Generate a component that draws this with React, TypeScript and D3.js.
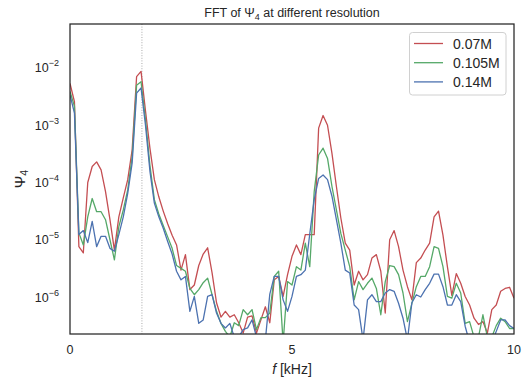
import React from 'react';
import * as d3 from 'd3';

// FFT frequency bins (kHz), spacing of the transform
const freqStepKHz = 0.1;

const seriesNames = ['0.07M', '0.105M', '0.14M'];
const seriesColors = ['#C44E52', '#55A868', '#4C72B0'];

// log10 |Psi4|, one value per frequency bin
const log10Psi4_007M = [
  -2.27, -2.59, -5.12, -5.23, -4.0, -3.72, -3.64, -3.78, -4.16, -4.65,
  -5.18, -4.6, -4.27, -3.95, -3.43, -2.15, -2.06, -2.75, -3.4, -3.95,
  -4.25, -4.5, -4.72, -4.92, -5.09, -5.53, -5.26, -5.87, -5.79, -5.45,
  -5.25, -5.14, -5.58, -6.1, -6.35, -6.25, -6.35, -6.31, -6.45, -6.63,
  -6.35, -6.33, -6.63, -6.4, -6.17, -6.45, -5.7, -5.64, -5.99, -5.61,
  -5.29, -5.09, -5.26, -4.91, -4.91, -4.91, -3.05, -2.83, -3.0, -3.49,
  -4.07, -4.62, -5.06, -5.18, -5.79, -5.55, -5.7, -5.61, -5.32, -5.26,
  -5.55, -6.28, -5.0, -4.84, -5.12, -5.53, -5.82, -6.05, -5.4, -5.32,
  -5.18, -5.06, -4.6, -4.5, -4.92, -5.47, -5.97, -5.59, -5.76, -5.99,
  -6.14, -6.37, -6.48, -6.43, -6.63, -6.22, -6.14, -5.9, -5.85, -5.83,
  -6.02,
];

const log10Psi4_0105M = [
  -2.41, -2.67, -4.88, -5.09, -4.6, -4.28, -4.51, -4.51, -4.65, -5.0,
  -5.35, -4.77, -4.48, -4.13, -3.55, -2.3, -2.24, -2.9, -3.7, -4.3,
  -4.55, -4.75, -4.95, -5.15, -5.45, -5.5, -5.55, -5.85, -5.96, -5.87,
  -5.75, -5.67, -5.96, -6.25, -6.46, -6.6, -6.7, -6.45, -6.5, -6.22,
  -6.31, -6.22, -6.57, -6.36, -6.36, -6.28, -5.64, -5.55, -6.8, -5.73,
  -5.79, -5.47, -5.53, -5.06, -5.47, -4.16, -3.52, -3.4, -3.58, -4.07,
  -4.48, -4.89, -5.18, -5.47, -6.05, -5.73, -5.87, -5.76, -5.67, -5.85,
  -6.31, -5.73, -5.45, -5.47, -5.61, -5.93, -6.43, -6.11, -5.82, -5.64,
  -5.64, -5.47, -5.12, -5.15, -5.47, -5.99, -6.02, -5.76, -5.93, -6.46,
  -6.43, -6.7, -6.7, -6.31, -6.7, -6.7, -6.5, -6.37, -6.43, -6.55,
  -6.55,
];

const log10Psi4_014M = [
  -2.47, -2.79, -4.91, -4.84, -5.05, -4.68, -5.12, -4.94, -4.94, -5.15,
  -5.2, -4.91, -4.6, -4.19, -3.66, -2.44, -2.35, -3.0, -3.8, -4.36,
  -4.6, -4.8, -5.03, -5.25, -5.55, -5.7, -5.64, -6.25, -5.99, -6.46,
  -6.4, -5.99, -5.96, -6.28, -6.46, -6.54, -6.46, -6.7, -6.7, -6.57,
  -6.54, -6.4, -6.7, -6.7, -6.75, -5.95, -5.64, -5.64, -6.05, -6.25,
  -5.99, -5.64, -5.61, -5.53, -4.9, -4.3, -3.93, -3.87, -3.95, -4.24,
  -4.65, -5.06, -5.53, -5.58, -6.14, -6.22, -6.75, -6.05, -5.96, -6.08,
  -6.08, -5.93, -5.87, -5.9, -6.11, -6.37, -6.75, -6.1, -5.96, -6.0,
  -5.87, -5.76, -5.6, -5.6, -5.82, -6.14, -6.14, -5.96, -6.08, -6.51,
  -6.8, -6.8, -6.8, -6.8, -6.8, -6.8, -6.6, -6.4, -6.4, -6.5,
  -6.55,
];

const seriesLog10 = [log10Psi4_007M, log10Psi4_0105M, log10Psi4_014M];

const xTicks = [0, 5, 10];
const yTickExponents = [-2, -3, -4, -5, -6];
const xDomain = [0, 10];
const yDomainExp = [-6.646, -1.232];
const markerFreqKHz = 1.62;

const W = 526;
const H = 380;
const M = { left: 70, right: 12, top: 24, bottom: 46 };

export default function App() {
  const x = d3.scaleLinear().domain(xDomain).range([M.left, W - M.right]);
  const y = d3
    .scaleLog()
    .domain([Math.pow(10, yDomainExp[0]), Math.pow(10, yDomainExp[1])])
    .range([H - M.bottom, M.top]);

  const line = d3
    .line<[number, number]>()
    .x((d) => x(d[0]))
    .y((d) => y(d[1]));

  const font = "'Liberation Sans', Arial, sans-serif";
  const left = M.left;
  const right = W - M.right;
  const top = M.top;
  const bottom = H - M.bottom;

  return (
    <svg
      width={W}
      height={H}
      style={{ position: 'absolute', left: 0, top: 0, background: '#fff' }}
      fontFamily={font}
    >
      <defs>
        <clipPath id="plotClip">
          <rect x={left} y={top} width={right - left} height={bottom - top} />
        </clipPath>
      </defs>
      <rect x={0} y={0} width={W} height={H} fill="#fff" />

      <line
        x1={x(markerFreqKHz)}
        x2={x(markerFreqKHz)}
        y1={top}
        y2={bottom}
        stroke="#a0a0a0"
        strokeWidth={0.9}
        strokeDasharray="1,1.6"
      />

      <g clipPath="url(#plotClip)">
        {seriesLog10.map((arr, si) => {
          const pts: [number, number][] = arr.map((v, i) => [
            i * freqStepKHz,
            Math.pow(10, v),
          ]);
          return (
            <path
              key={si}
              d={line(pts) || ''}
              fill="none"
              stroke={seriesColors[si]}
              strokeWidth={1.3}
              strokeLinejoin="round"
            />
          );
        })}
      </g>

      <rect
        x={left}
        y={top}
        width={right - left}
        height={bottom - top}
        fill="none"
        stroke="#262626"
        strokeWidth={1.25}
      />

      {yTickExponents.map((e) => (
        <text
          key={e}
          x={59}
          y={y(Math.pow(10, e)) + 4.5}
          textAnchor="end"
          fontSize={12.5}
          fill="#262626"
        >
          10
          <tspan dy={-6} fontSize={9}>
            {'\u2212' + Math.abs(e)}
          </tspan>
        </text>
      ))}

      {xTicks.map((t) => (
        <text
          key={t}
          x={x(t)}
          y={bottom + 20}
          textAnchor="middle"
          fontSize={12.5}
          fill="#262626"
        >
          {t}
        </text>
      ))}

      <text
        x={(left + right) / 2}
        y={17}
        textAnchor="middle"
        fontSize={12.5}
        fill="#262626"
      >
        FFT of Ψ
        <tspan dy={3} fontSize={9}>4</tspan>
        <tspan dy={-3}> at different resolution</tspan>
      </text>

      <text
        x={(left + right) / 2}
        y={374}
        textAnchor="middle"
        fontSize={14}
        fill="#262626"
      >
        <tspan fontStyle="italic">f</tspan> [kHz]
      </text>

      <text
        transform={`translate(25, ${(top + bottom) / 2}) rotate(-90)`}
        textAnchor="middle"
        fontSize={15}
        fill="#262626"
      >
        Ψ
        <tspan dy={3} fontSize={10.5}>4</tspan>
      </text>

      <g>
        <rect
          x={409.5}
          y={32.5}
          width={96.5}
          height={62.5}
          rx={3}
          fill="#fff"
          stroke="#d0d0d0"
          strokeWidth={1}
        />
        {seriesNames.map((name, i) => {
          const cy = 43.5 + i * 19.2;
          return (
            <g key={name}>
              <line
                x1={414}
                x2={443}
                y1={cy}
                y2={cy}
                stroke={seriesColors[i]}
                strokeWidth={1.3}
              />
              <text x={453} y={cy + 5} fontSize={14} fill="#262626">
                {name}
              </text>
            </g>
          );
        })}
      </g>
    </svg>
  );
}
